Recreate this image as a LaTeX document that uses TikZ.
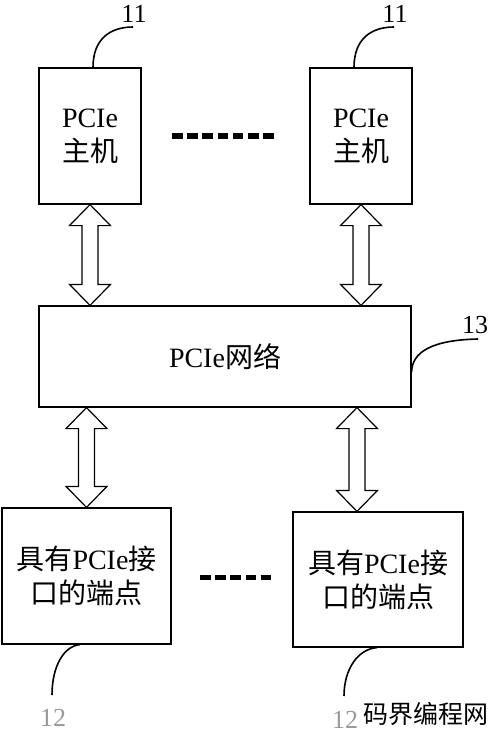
\documentclass[tikz,border=0pt]{standalone}
\usepackage{fontspec}
\setmainfont{Liberation Serif}
\newfontfamily\cjk{Noto Sans CJK SC}
\usetikzlibrary{calc}

\newcommand{\zh}[1]{{\cjk #1}}
% hollow two-headed arrow, drawn downwards from #1 to #2
\newcommand{\biarrow}[2]{%
  \draw[line width=1.2pt, fill=white] let \p1=(#1), \p2=(#2) in
    (\x1,\y1) -- (\x1+20.5pt,\y1-21pt) -- (\x1+8pt,\y1-21pt) -- (\x1+8pt,\y2+21pt)
    -- (\x1+20.5pt,\y2+21pt) -- (\x1,\y2) -- (\x1-20.5pt,\y2+21pt) -- (\x1-8pt,\y2+21pt)
    -- (\x1-8pt,\y1-21pt) -- (\x1-20.5pt,\y1-21pt) -- cycle;}

\begin{document}
\begin{tikzpicture}[x=1pt, y=-1pt,
    block/.style={rectangle, draw, line width=1.2pt, align=center, inner sep=0pt, font=\fontsize{28}{34}\selectfont},
    leader/.style={line width=1.6pt},
    refnum/.style={inner sep=0pt, font=\fontsize{26}{26}\selectfont},
    dots/.style={line width=5pt, dash pattern=on 10.5pt off 4.7pt}
]
\clip (0,0) rectangle (490,733);

% Hosts
\node[block, minimum width=102pt, minimum height=136pt] (host1) at (90,136) {PCIe\\\zh{主机}};
\node[block, minimum width=102pt, minimum height=136pt] (host2) at (361,136) {PCIe\\\zh{主机}};

% Network
\node[block, minimum width=372pt, minimum height=101pt] (net) at (225,356.5) {PCIe\zh{网络}};

% Endpoints
\node[block, minimum width=169pt, minimum height=136pt] (end1) at (86.5,576) {\zh{具有}PCIe\zh{接}\\\zh{口的端点}};
\node[block, minimum width=170pt, minimum height=135pt] (end2) at (378,579.5) {\zh{具有}PCIe\zh{接}\\\zh{口的端点}};

% Ellipsis dashes
\coordinate (dotsA) at (172,136);
\coordinate (dotsB) at (273.7,136);
\coordinate (dotsC) at (200,577);
\coordinate (dotsD) at (271,577);
\draw[dots] (dotsA) -- (dotsB);
\draw[dots] (dotsC) -- (dotsD);

% Two-way arrows
\coordinate (tap) at (357,0);
\biarrow{host1.south}{net.north -| host1.south}
\biarrow{host2.south}{net.north -| host2.south}
\biarrow{net.south -| end1.north}{end1.north}
\biarrow{net.south -| tap}{end2.north -| tap}

% Reference numerals
\node[refnum] (n11a) at (134,14) {11};
\node[refnum] (n11b) at (395,14) {11};
\node[refnum] (n13) at (475,325) {13};
\node[refnum, text=black!40] (n12a) at (53,718) {12};
\node[refnum, text=black!40] (n12b) at (345,720) {12};

\coordinate (endA) at (133,27);
\coordinate (endB) at (394,27);
\coordinate (endC) at (478,339);
\coordinate (endD) at (52,695);
\coordinate (endE) at (344,696);
\draw[leader] ([xshift=3pt]host1.north) .. controls (93,39) and (110,27) .. (endA);
\draw[leader] ([xshift=-7pt]host2.north) .. controls (354,39) and (371,27) .. (endB);
\draw[leader] ([yshift=-15.5pt]net.east) .. controls (412,352) and (432,340) .. (endC);
\draw[leader] ([xshift=-6.5pt]end1.south) .. controls (64,646) and (52,666) .. (endD);
\draw[leader] ([xshift=-1pt]end2.south) .. controls (358,649) and (344,669) .. (endE);

% Watermark
\node[inner sep=0pt, font=\cjk\fontsize{25}{25}\selectfont] (mark) at (426,714) {码界编程网};

\end{tikzpicture}
\end{document}
